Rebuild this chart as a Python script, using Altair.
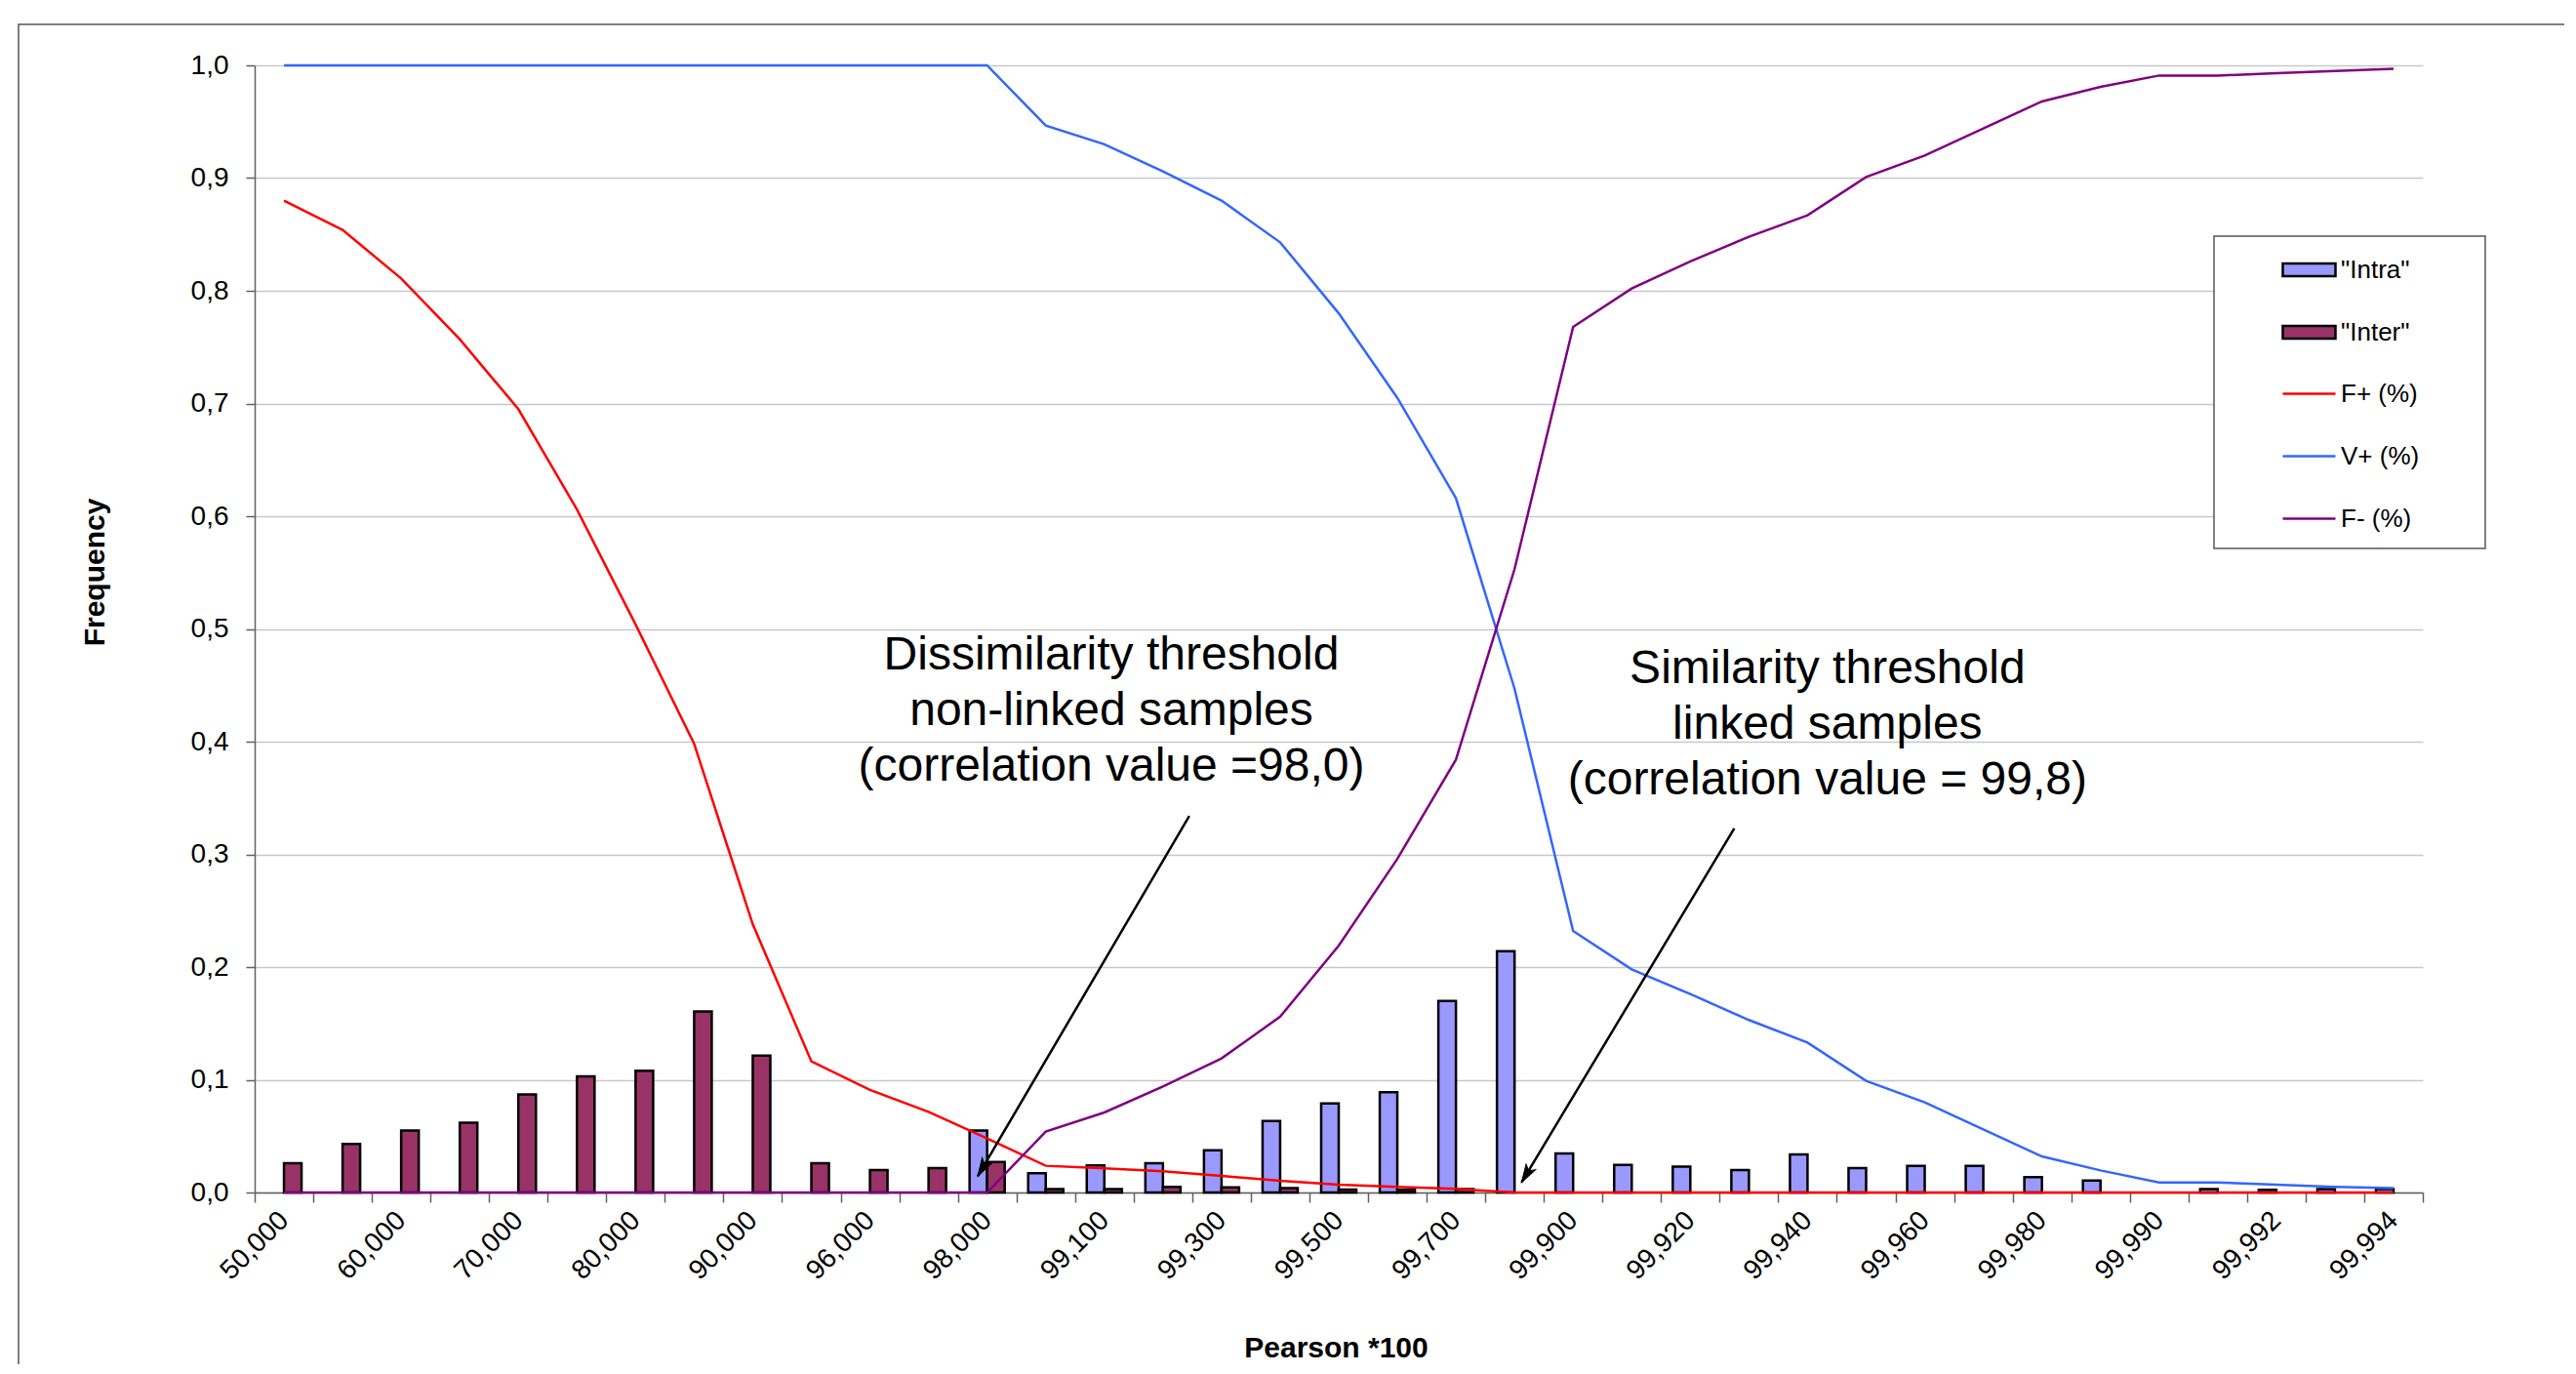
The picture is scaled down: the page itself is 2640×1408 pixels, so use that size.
import json
import math
import altair as alt
import pandas as pd

# ---------------- data ----------------
categories = list(range(37))
x_labels = ["50,000", "60,000", "70,000", "80,000", "90,000", "96,000", "98,000",
            "99,100", "99,300", "99,500", "99,700", "99,900", "99,920", "99,940",
            "99,960", "99,980", "99,990", "99,992", "99,994"]
y_ticks = [0.0, 0.1, 0.2, 0.3, 0.4, 0.5, 0.6, 0.7, 0.8, 0.9, 1.0]

intra = [0, 0, 0, 0, 0, 0, 0, 0, 0, 0, 0, 0,
         0.055, 0.017, 0.024, 0.026, 0.0375, 0.0635, 0.079, 0.089, 0.170, 0.214,
         0.0346, 0.0245, 0.023, 0.020, 0.0338, 0.0216, 0.0237, 0.0237, 0.0136,
         0.0107, 0, 0.003, 0.0023, 0.003, 0.003]
inter = [0.026, 0.043, 0.055, 0.062, 0.087, 0.103, 0.108, 0.1605, 0.1215, 0.026,
         0.020, 0.0216, 0.027, 0.003, 0.003, 0.005, 0.0046, 0.0038, 0.0026, 0.0023,
         0.003, 0, 0, 0, 0, 0, 0, 0, 0, 0, 0, 0, 0, 0, 0, 0, 0]
f_plus = [0.880, 0.854, 0.811, 0.757, 0.695, 0.606, 0.504, 0.398, 0.238, 0.1163,
          0.091, 0.0716, 0.048, 0.0237, 0.0214, 0.0188, 0.0147, 0.0104, 0.0069,
          0.0049, 0.0032, 0, 0, 0, 0, 0, 0, 0, 0, 0, 0, 0, 0, 0, 0, 0, 0]
v_plus = [1, 1, 1, 1, 1, 1, 1, 1, 1, 1, 1, 1, 1,
          0.9466, 0.930, 0.906, 0.880, 0.843, 0.780, 0.705, 0.616, 0.447, 0.232,
          0.198, 0.176, 0.153, 0.133, 0.099, 0.080, 0.056, 0.032, 0.0196, 0.0089,
          0.0089, 0.007, 0.005, 0.0038]
f_minus = [0, 0, 0, 0, 0, 0, 0, 0, 0, 0, 0, 0, 0,
           0.054, 0.071, 0.094, 0.119, 0.156, 0.219, 0.296, 0.384, 0.553, 0.768,
           0.802, 0.826, 0.848, 0.867, 0.901, 0.920, 0.944, 0.968, 0.981, 0.991,
           0.991, 0.993, 0.995, 0.997]

bar_series = ['"Intra"', '"Inter"']
bar_colors = ["#9999FF", "#993366"]
line_series = ["F+ (%)", "V+ (%)", "F- (%)"]
line_colors = ["#FF0000", "#3366FF", "#800080"]

ann_text = ["Dissimilarity threshold\nnon-linked samples\n(correlation value =98,0)",
            "Similarity threshold\nlinked samples\n(correlation value = 99,8)"]
ann_x = [14.62, 26.84]
ann_y = [0.464, 0.452]
arrow_x = [15.95, 25.25]
arrow_y = [0.334, 0.323]
arrow_x2 = [12.34, 21.62]
arrow_y2 = [0.0145, 0.009]

# ---------------- layout ----------------
W, H = 2222, 1155
FONT = "Liberation Sans"
AXIS_GREY = "#606060"

bars_df = pd.DataFrame({
    "idx": categories * 2,
    "value": intra + inter,
    "bar_series": [bar_series[0]] * len(categories) + [bar_series[1]] * len(categories),
})
bars_df = bars_df[bars_df["value"] > 0]

lines_df = pd.DataFrame({
    "idx": categories * 3,
    "value": f_plus + v_plus + f_minus,
    "line_series": sum([[s] * len(categories) for s in line_series], []),
})

ann_df = pd.DataFrame({"text": ann_text, "ax": ann_x, "ay": ann_y})


def head_angle(x0, y0, x1, y1):
    dx = (x1 - x0) * W / 37.0
    dy = -(y1 - y0) * H
    return math.degrees(math.atan2(dx, -dy)) % 360


arrow_df = pd.DataFrame({
    "ax": arrow_x, "ay": arrow_y, "ax2": arrow_x2, "ay2": arrow_y2,
    "angle": [head_angle(a, b, c, d) for a, b, c, d in zip(arrow_x, arrow_y, arrow_x2, arrow_y2)],
})

one_df = pd.DataFrame({"k": [0]})

y_scale = alt.Scale(domain=[0, 1], nice=False, zero=True)
x_band = alt.Scale(domain=categories, paddingInner=0, paddingOuter=0)
x_quant = alt.Scale(domain=[0, 37], nice=False, zero=False)

x_label_expr = "datum.value % 2 === 0 ? " + json.dumps(x_labels) + "[datum.value / 2] : ''"

x_axis = alt.Axis(
    title="Pearson *100", labelExpr=x_label_expr, labelAngle=-45, labelAlign="right",
    labelBaseline="middle", labelFontSize=28, labelFont=FONT, labelColor="black",
    labelPadding=14, labelOverlap=False, tickBand="extent", tickSize=10, tickColor=AXIS_GREY,
    tickWidth=1.5, domainColor=AXIS_GREY, domainWidth=1.5, grid=False,
    titleFont=FONT, titleFontSize=30, titleFontWeight="bold", titleColor="black",
    titleX=1108, titleY=168, titleAlign="center", titleBaseline="alphabetic",
)
y_axis = alt.Axis(
    title="Frequency", values=y_ticks,
    labelExpr="replace(format(datum.value, '.1f'), '.', ',')",
    labelFontSize=28, labelFont=FONT, labelColor="black", labelPadding=18,
    tickSize=9, tickColor=AXIS_GREY, tickWidth=1.5, domainColor=AXIS_GREY, domainWidth=1.5,
    grid=True, gridColor="#c8c8c8", gridWidth=1.5,
    titleFont=FONT, titleFontSize=30, titleFontWeight="bold", titleColor="black",
    titleX=-164, titleY=519, titleAngle=270, titleAlign="center", titleBaseline="middle",
)

outer = alt.Chart(one_df).mark_rect(filled=False, stroke="#555555", strokeWidth=1.5).encode(
    x=alt.value(-242), x2=alt.value(2800), y=alt.value(-42), y2=alt.value(1600)
)

bars = alt.Chart(bars_df).mark_bar(stroke="black", strokeWidth=2.5).encode(
    x=alt.X("idx:O", scale=x_band, axis=x_axis),
    xOffset=alt.XOffset("bar_series:N", scale=alt.Scale(domain=bar_series, paddingInner=0, paddingOuter=0.667)),
    y=alt.Y("value:Q", scale=y_scale, axis=y_axis),
    fill=alt.Fill("bar_series:N", scale=alt.Scale(domain=bar_series, range=bar_colors),
                  legend=alt.Legend(title=None, orient="none", legendX=2077, legendY=181,
                                    symbolType="M-1,-0.24H1V0.24H-1Z", symbolSize=2916,
                                    symbolStrokeColor="black", symbolStrokeWidth=2.5,
                                    labelFontSize=26, labelFont=FONT, labelColor="black",
                                    labelOffset=4, rowPadding=22, padding=0)),
)

lines = alt.Chart(lines_df).mark_line(strokeWidth=2.5).encode(
    x=alt.X("idx:O", scale=x_band, axis=None),
    y=alt.Y("value:Q", scale=y_scale),
    stroke=alt.Stroke("line_series:N", scale=alt.Scale(domain=line_series, range=line_colors),
                      legend=alt.Legend(title=None, orient="none", legendX=2077, legendY=308,
                                        symbolType="stroke", symbolSize=2916, symbolStrokeWidth=2.5,
                                        labelFontSize=26, labelFont=FONT, labelColor="black",
                                        labelOffset=4, rowPadding=22, padding=0)),
    order=alt.Order("idx:Q"),
)

legend_box = alt.Chart(one_df).mark_rect(fill="white", stroke="#555555", strokeWidth=1.5).encode(
    x=alt.value(2008), x2=alt.value(2286), y=alt.value(175), y2=alt.value(495)
)

arrows = alt.Chart(arrow_df).mark_rule(color="black", strokeWidth=2.5).encode(
    x=alt.X("ax:Q", scale=x_quant, axis=None),
    x2="ax2:Q",
    y=alt.Y("ay:Q", scale=y_scale),
    y2="ay2:Q",
)

heads = alt.Chart(arrow_df).mark_point(
    shape="M0,0L-0.55,1.8L0,1.35L0.55,1.8Z", filled=True, fill="black", stroke="black",
    strokeWidth=1, size=420, opacity=1
).encode(
    x=alt.X("ax2:Q", scale=x_quant, axis=None),
    y=alt.Y("ay2:Q", scale=y_scale),
    angle=alt.Angle("angle:Q", scale=None),
)

texts = alt.Chart(ann_df).mark_text(
    align="center", baseline="alphabetic", fontSize=48, lineHeight=57, font=FONT,
    color="black", lineBreak="\n"
).encode(
    x=alt.X("ax:Q", scale=x_quant, axis=None),
    y=alt.Y("ay:Q", scale=y_scale),
    text="text:N",
)

chart = alt.layer(outer, bars, lines, legend_box, arrows, heads, texts).resolve_scale(
    x="independent"
).properties(
    width=W, height=H,
    autosize=alt.AutoSizeParams(type="none"),
    padding={"left": 253, "top": 59, "right": 145, "bottom": 176},
    background="white",
).configure_view(strokeWidth=0)

chart.save("out.html", embed_options={"renderer": "svg", "actions": False})
